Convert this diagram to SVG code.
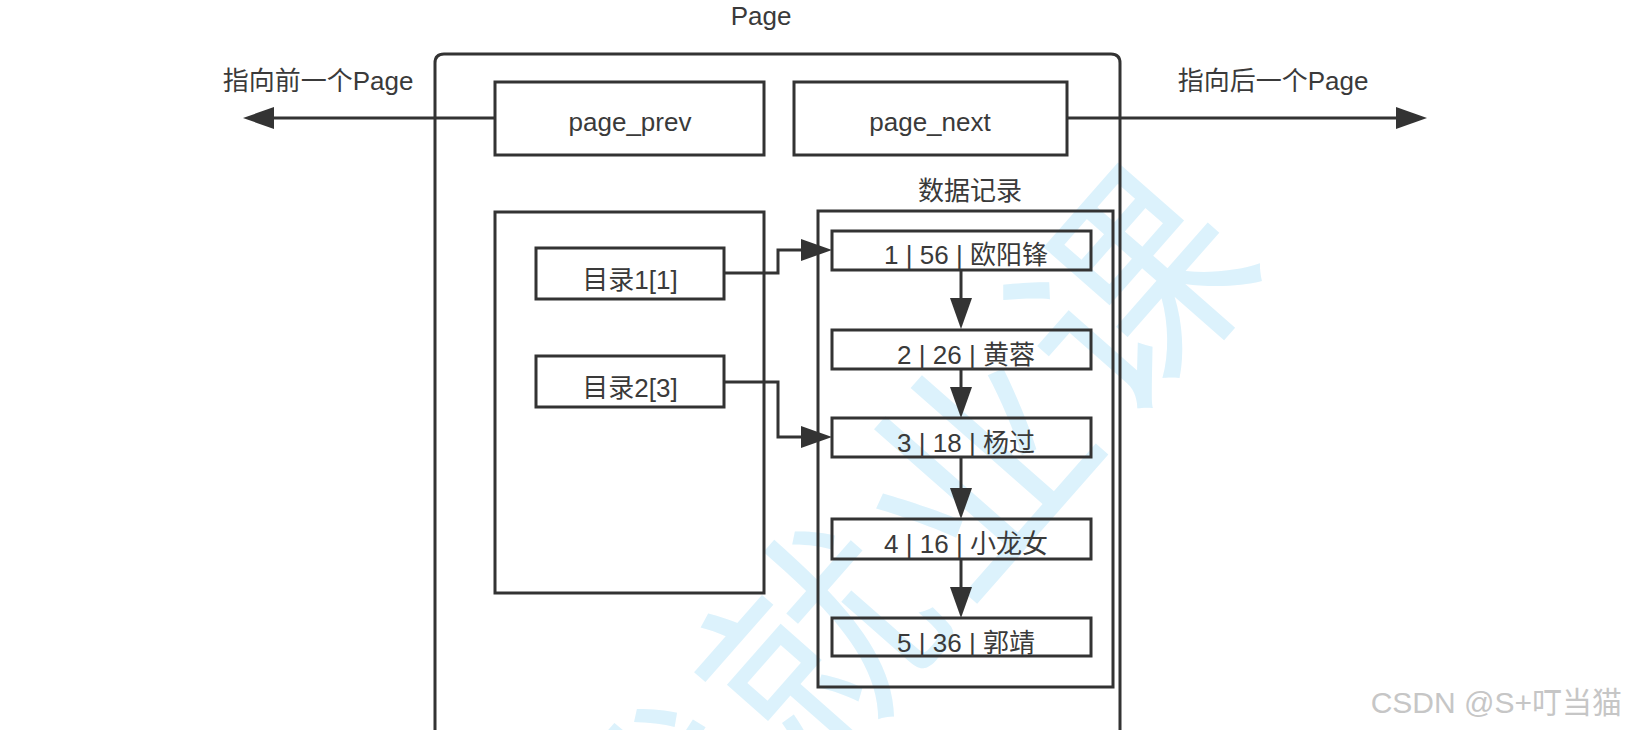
<svg xmlns="http://www.w3.org/2000/svg" width="1628" height="730" viewBox="0 0 1628 730">
  <style>
    .box { fill: none; stroke: #333333; stroke-width: 3; }
    .line { fill: none; stroke: #333333; stroke-width: 3; }
    .t { font-family: "Liberation Sans", "Noto Sans CJK SC", sans-serif; font-size: 26px; fill: #3a3a3a; text-anchor: middle; }
    .wm { font-family: "Noto Sans CJK SC", sans-serif; font-size: 225px; fill: #dcf2fc; text-anchor: middle; dominant-baseline: central; }
    .csdn { font-family: "Liberation Sans", "Noto Sans CJK SC", sans-serif; font-size: 30px; fill: #c6c6c6; text-anchor: end; }
  </style>
  <defs>
    <marker id="arrow" markerUnits="userSpaceOnUse" markerWidth="32" markerHeight="24" refX="0" refY="11" orient="auto">
      <path d="M0,0 L31,11 L0,22 Z" fill="#333333"/>
    </marker>
  </defs>
  <rect width="1628" height="730" fill="#ffffff"/>

  <!-- watermark -->
  <g id="watermark">
    <text class="wm" x="890" y="545" transform="rotate(-48.7 890 545)" letter-spacing="12">战就业课</text>
  </g>

  <!-- outer Page container -->
  <g id="page">
    <path class="box" d="M435,740 L435,63 Q435,54 444,54 L1111,54 Q1120,54 1120,63 L1120,740"/>
    <text class="t" x="761" y="25">Page</text>
  </g>

  <g id="page_prev">
    <rect class="box" x="495" y="82" width="269" height="73"/>
    <text class="t" x="630" y="131">page_prev</text>
  </g>
  <g id="page_next">
    <rect class="box" x="794" y="82" width="273" height="73"/>
    <text class="t" x="930" y="131">page_next</text>
  </g>

  <g id="label_prev"><text class="t" x="318" y="90">指向前一个Page</text></g>
  <g id="label_next"><text class="t" x="1273" y="90">指向后一个Page</text></g>

  <g id="directory">
    <rect class="box" x="495" y="212" width="269" height="381"/>
  </g>
  <g id="dir1">
    <rect class="box" x="536" y="248" width="188" height="51"/>
    <text class="t" x="630" y="289">目录1[1]</text>
  </g>
  <g id="dir2">
    <rect class="box" x="536" y="356" width="188" height="51"/>
    <text class="t" x="630" y="397">目录2[3]</text>
  </g>

  <g id="records">
    <rect class="box" x="818" y="211" width="295" height="476"/>
    <text class="t" x="970" y="200">数据记录</text>
  </g>
  <g id="rec1">
    <rect class="box" x="832" y="231" width="259" height="39"/>
    <text class="t" x="966" y="264">1 | 56 | 欧阳锋</text>
  </g>
  <g id="rec2">
    <rect class="box" x="832" y="330" width="259" height="39"/>
    <text class="t" x="966" y="364">2 | 26 | 黄蓉</text>
  </g>
  <g id="rec3">
    <rect class="box" x="832" y="418" width="259" height="39"/>
    <text class="t" x="966" y="452">3 | 18 | 杨过</text>
  </g>
  <g id="rec4">
    <rect class="box" x="832" y="519" width="259" height="40"/>
    <text class="t" x="966" y="553">4 | 16 | 小龙女</text>
  </g>
  <g id="rec5">
    <rect class="box" x="832" y="618" width="259" height="38"/>
    <text class="t" x="966" y="652">5 | 36 | 郭靖</text>
  </g>

  <g id="connectors">
    <path class="line" d="M495,118 L274,118" marker-end="url(#arrow)"/>
    <path class="line" d="M1067,118 L1396,118" marker-end="url(#arrow)"/>
    <path class="line" d="M724,273 L778,273 L778,250 L801,250" marker-end="url(#arrow)"/>
    <path class="line" d="M724,382 L778,382 L778,437 L801,437" marker-end="url(#arrow)"/>
    <path class="line" d="M961,270 L961,298" marker-end="url(#arrow)"/>
    <path class="line" d="M961,369 L961,387" marker-end="url(#arrow)"/>
    <path class="line" d="M961,457 L961,488" marker-end="url(#arrow)"/>
    <path class="line" d="M961,559 L961,587" marker-end="url(#arrow)"/>
  </g>

  <g id="csdn"><text class="csdn" x="1622" y="713">CSDN @S+叮当猫</text></g>
</svg>
